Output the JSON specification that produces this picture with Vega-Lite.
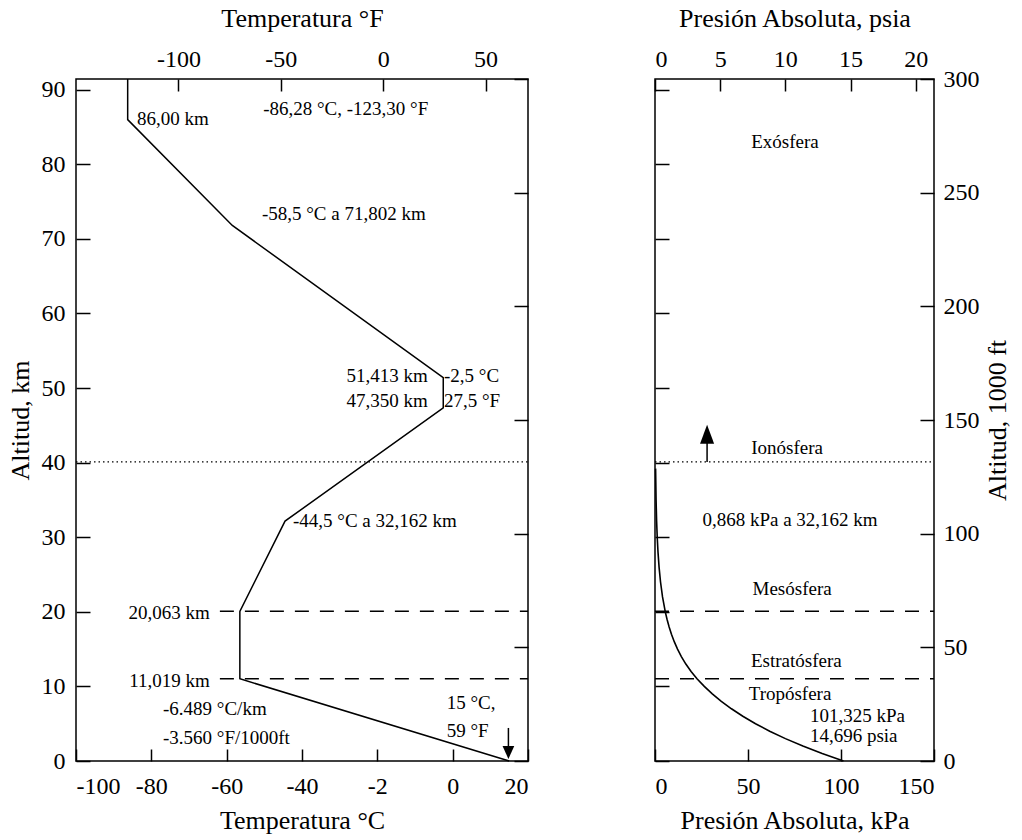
{
  "$schema": "https://vega.github.io/schema/vega-lite/v6.json",
  "background": "white",
  "padding": {"left": 6, "top": 4, "right": 5, "bottom": 5},
  "spacing": 119,
  "config": {
    "font": "Liberation Serif",
    "view": {"stroke": "black", "strokeWidth": 1.5},
    "axis": {
      "grid": false, "domain": false,
      "labelFont": "Liberation Serif", "titleFont": "Liberation Serif",
      "labelFontSize": 24, "titleFontSize": 26, "titleFontWeight": "normal",
      "labelColor": "black", "titleColor": "black",
      "tickColor": "black", "tickWidth": 1.5, "minExtent": 0
    },
    "text": {"font": "Liberation Serif", "fontSize": 19, "color": "black"}
  },
  "hconcat": [
    {
      "width": 452, "height": 682,
      "layer": [
        {
          "layer": [
            {
              "data": {"values": [
                {"km": 0, "C": 15},
                {"km": 11.019, "C": -56.5},
                {"km": 20.063, "C": -56.5},
                {"km": 32.162, "C": -44.5},
                {"km": 47.35, "C": -2.5},
                {"km": 51.413, "C": -2.5},
                {"km": 71.802, "C": -58.5},
                {"km": 86.0, "C": -86.28},
                {"km": 91.44, "C": -86.28}
              ]},
              "mark": {"type": "line", "color": "black", "strokeWidth": 1.5},
              "encoding": {
                "x": {"field": "C", "type": "quantitative",
                  "scale": {"domain": [-100, 20], "nice": false, "zero": false},
                  "axis": {"orient": "bottom", "values": [-100, -80, -60, -40, -20, 0, 20], "tickSize": -12, "labelPadding": 25, "titlePadding": 9, "title": "Temperatura °C",
                    "labelExpr": "datum.value == -20 ? '-2' : '' + datum.value"}},
                "y": {"field": "km", "type": "quantitative",
                  "scale": {"domain": [0, 91.44], "nice": false, "zero": false},
                  "axis": {"orient": "left", "values": [0, 10, 20, 30, 40, 50, 60, 70, 80, 90], "tickSize": -14, "labelPadding": 25, "titlePadding": 8, "title": "Altitud, km"}},
                "order": {"field": "km", "type": "quantitative"}
              }
            },
            {
              "data": {"values": [
                {"km": 20.063, "C": -61.8, "C2": 20},
                {"km": 11.019, "C": -61.8, "C2": 20}
              ]},
              "mark": {"type": "rule", "color": "black", "strokeWidth": 1.5, "strokeDash": [14, 11]},
              "encoding": {
                "x": {"field": "C", "type": "quantitative"},
                "x2": {"field": "C2"},
                "y": {"field": "km", "type": "quantitative"}
              }
            },
            {
              "data": {"values": [{"km": 40.1, "C": -100, "C2": 20}]},
              "mark": {"type": "rule", "color": "black", "strokeWidth": 1.2, "strokeDash": [1.5, 3]},
              "encoding": {
                "x": {"field": "C", "type": "quantitative"},
                "x2": {"field": "C2"},
                "y": {"field": "km", "type": "quantitative"}
              }
            },
            {
              "data": {"values": [{"C": 14.8, "km": 4.43, "km2": 1.3}]},
              "mark": {"type": "rule", "color": "black", "strokeWidth": 1.5},
              "encoding": {
                "x": {"field": "C", "type": "quantitative"},
                "y": {"field": "km", "type": "quantitative"},
                "y2": {"field": "km2"}
              }
            },
            {
              "data": {"values": [{"C": 14.8, "km": 1.14}]},
              "mark": {"type": "point", "shape": "M0,1L0.9,-1L-0.9,-1Z", "filled": true, "color": "black", "opacity": 1, "size": 169},
              "encoding": {
                "x": {"field": "C", "type": "quantitative"},
                "y": {"field": "km", "type": "quantitative"}
              }
            },
            {
              "data": {"values": [
                {"label": "86,00 km", "C": -83.8, "km": 86.1},
                {"label": "-2,5 °C", "C": -2.3, "km": 51.6},
                {"label": "27,5 °F", "C": -2.3, "km": 48.3},
                {"label": "-44,5 °C a 32,162 km", "C": -42.4, "km": 32.2},
                {"label": "-6.489 °C/km", "C": -76.9, "km": 7.0},
                {"label": "-3.560 °F/1000ft", "C": -76.9, "km": 3.1},
                {"label": "15 °C,", "C": -1.6, "km": 7.8},
                {"label": "59 °F", "C": -1.6, "km": 4.0}
              ]},
              "mark": {"type": "text", "align": "left", "baseline": "middle"},
              "encoding": {
                "x": {"field": "C", "type": "quantitative"},
                "y": {"field": "km", "type": "quantitative"},
                "text": {"field": "label"}
              }
            },
            {
              "data": {"values": [
                {"label": "-86,28 °C, -123,30 °F", "C": -28.4, "km": 87.4},
                {"label": "-58,5 °C a 71,802 km", "C": -28.9, "km": 73.4}
              ]},
              "mark": {"type": "text", "align": "center", "baseline": "middle"},
              "encoding": {
                "x": {"field": "C", "type": "quantitative"},
                "y": {"field": "km", "type": "quantitative"},
                "text": {"field": "label"}
              }
            },
            {
              "data": {"values": [
                {"label": "51,413 km", "C": -6.6, "km": 51.6},
                {"label": "47,350 km", "C": -6.6, "km": 48.3},
                {"label": "20,063 km", "C": -64.5, "km": 19.85},
                {"label": "11,019 km", "C": -64.5, "km": 10.7}
              ]},
              "mark": {"type": "text", "align": "right", "baseline": "middle"},
              "encoding": {
                "x": {"field": "C", "type": "quantitative"},
                "y": {"field": "km", "type": "quantitative"},
                "text": {"field": "label"}
              }
            }
          ]
        },
        {
          "data": {"values": [{"F": -150, "kft": 0}, {"F": 70.7, "kft": 300}]},
          "mark": {"type": "point", "opacity": 0},
          "encoding": {
            "x": {"field": "F", "type": "quantitative",
              "scale": {"domain": [-150, 70.7], "nice": false, "zero": false},
              "axis": {"orient": "top", "values": [-100, -50, 0, 50], "tickSize": -12, "labelPadding": 20, "titlePadding": 16, "title": "Temperatura °F", "labelExpr": "'' + datum.value"}},
            "y": {"field": "kft", "type": "quantitative",
              "scale": {"domain": [0, 300], "nice": false, "zero": false},
              "axis": {"orient": "right", "values": [0, 50, 100, 150, 200, 250, 300], "tickSize": -14, "labels": false, "title": null}}
          }
        }
      ],
      "resolve": {"scale": {"x": "independent", "y": "independent"}}
    },
    {
      "width": 279, "height": 682,
      "layer": [
        {
          "layer": [
            {
              "data": {"values": [
                {"km": 0, "kPa": 101.325},
                {"km": 1, "kPa": 89.876},
                {"km": 2, "kPa": 79.501},
                {"km": 3, "kPa": 70.121},
                {"km": 4, "kPa": 61.66},
                {"km": 5, "kPa": 54.048},
                {"km": 6, "kPa": 47.218},
                {"km": 7, "kPa": 41.105},
                {"km": 8, "kPa": 35.652},
                {"km": 9, "kPa": 30.801},
                {"km": 10, "kPa": 26.5},
                {"km": 11, "kPa": 22.7},
                {"km": 12, "kPa": 19.399},
                {"km": 13, "kPa": 16.58},
                {"km": 14, "kPa": 14.17},
                {"km": 15, "kPa": 12.112},
                {"km": 16, "kPa": 10.353},
                {"km": 17, "kPa": 8.85},
                {"km": 18, "kPa": 7.565},
                {"km": 19, "kPa": 6.467},
                {"km": 20, "kPa": 5.529},
                {"km": 22, "kPa": 4.047},
                {"km": 24, "kPa": 2.972},
                {"km": 26, "kPa": 2.188},
                {"km": 28, "kPa": 1.616},
                {"km": 30, "kPa": 1.197},
                {"km": 32.162, "kPa": 0.868},
                {"km": 35, "kPa": 0.575},
                {"km": 39.2, "kPa": 0.32}
              ]},
              "mark": {"type": "line", "color": "black", "strokeWidth": 1.6},
              "encoding": {
                "x": {"field": "kPa", "type": "quantitative",
                  "scale": {"domain": [0, 150], "nice": false, "zero": false},
                  "axis": {"orient": "bottom", "values": [0, 50, 100, 150], "tickSize": -12, "labelPadding": 25, "titlePadding": 9, "title": "Presión Absoluta, kPa"}},
                "y": {"field": "km", "type": "quantitative",
                  "scale": {"domain": [0, 91.44], "nice": false, "zero": false},
                  "axis": {"orient": "left", "values": [0, 10, 20, 30, 40, 50, 60, 70, 80, 90], "tickSize": -14, "labels": false, "title": null}},
                "order": {"field": "km", "type": "quantitative"}
              }
            },
            {
              "data": {"values": [
                {"km": 20.063, "kPa": 0, "kPa2": 150},
                {"km": 11.019, "kPa": 0, "kPa2": 150}
              ]},
              "mark": {"type": "rule", "color": "black", "strokeWidth": 1.5, "strokeDash": [14, 11]},
              "encoding": {
                "x": {"field": "kPa", "type": "quantitative"},
                "x2": {"field": "kPa2"},
                "y": {"field": "km", "type": "quantitative"}
              }
            },
            {
              "data": {"values": [{"km": 40.1, "kPa": 0, "kPa2": 150}]},
              "mark": {"type": "rule", "color": "black", "strokeWidth": 1.2, "strokeDash": [1.5, 3]},
              "encoding": {
                "x": {"field": "kPa", "type": "quantitative"},
                "x2": {"field": "kPa2"},
                "y": {"field": "km", "type": "quantitative"}
              }
            },
            {
              "data": {"values": [{"kPa": 28, "km": 40.1, "km2": 43.5}]},
              "mark": {"type": "rule", "color": "black", "strokeWidth": 1.5},
              "encoding": {
                "x": {"field": "kPa", "type": "quantitative"},
                "y": {"field": "km", "type": "quantitative"},
                "y2": {"field": "km2"}
              }
            },
            {
              "data": {"values": [{"kPa": 28, "km": 43.8}]},
              "mark": {"type": "point", "shape": "M0,-1L0.74,1L-0.74,1Z", "filled": true, "color": "black", "opacity": 1, "size": 361},
              "encoding": {
                "x": {"field": "kPa", "type": "quantitative"},
                "y": {"field": "km", "type": "quantitative"}
              }
            },
            {
              "data": {"values": [
                {"label": "Exósfera", "kPa": 69.9, "km": 83.0},
                {"label": "Ionósfera", "kPa": 71, "km": 42.0},
                {"label": "0,868 kPa a 32,162 km", "kPa": 72.6, "km": 32.3},
                {"label": "Mesósfera", "kPa": 73.7, "km": 23.1},
                {"label": "Estratósfera", "kPa": 76, "km": 13.4},
                {"label": "Tropósfera", "kPa": 72.6, "km": 9.0}
              ]},
              "mark": {"type": "text", "align": "center", "baseline": "middle"},
              "encoding": {
                "x": {"field": "kPa", "type": "quantitative"},
                "y": {"field": "km", "type": "quantitative"},
                "text": {"field": "label"}
              }
            },
            {
              "data": {"values": [
                {"label": "101,325 kPa", "kPa": 83.3, "km": 6.0},
                {"label": "14,696 psia", "kPa": 83.3, "km": 3.35}
              ]},
              "mark": {"type": "text", "align": "left", "baseline": "middle"},
              "encoding": {
                "x": {"field": "kPa", "type": "quantitative"},
                "y": {"field": "km", "type": "quantitative"},
                "text": {"field": "label"}
              }
            }
          ]
        },
        {
          "data": {"values": [{"psi": 0, "kft": 0}, {"psi": 21.4, "kft": 300}]},
          "mark": {"type": "point", "opacity": 0},
          "encoding": {
            "x": {"field": "psi", "type": "quantitative",
              "scale": {"domain": [0, 21.4], "nice": false, "zero": false},
              "axis": {"orient": "top", "values": [0, 5, 10, 15, 20], "tickSize": -12, "labelPadding": 20, "titlePadding": 16, "title": "Presión Absoluta, psia"}},
            "y": {"field": "kft", "type": "quantitative",
              "scale": {"domain": [0, 300], "nice": false, "zero": false},
              "axis": {"orient": "right", "values": [0, 50, 100, 150, 200, 250, 300], "tickSize": -14, "labelPadding": 23, "titlePadding": 31, "title": "Altitud, 1000 ft", "titleAngle": -90}}
          }
        }
      ],
      "resolve": {"scale": {"x": "independent", "y": "independent"}}
    }
  ]
}
